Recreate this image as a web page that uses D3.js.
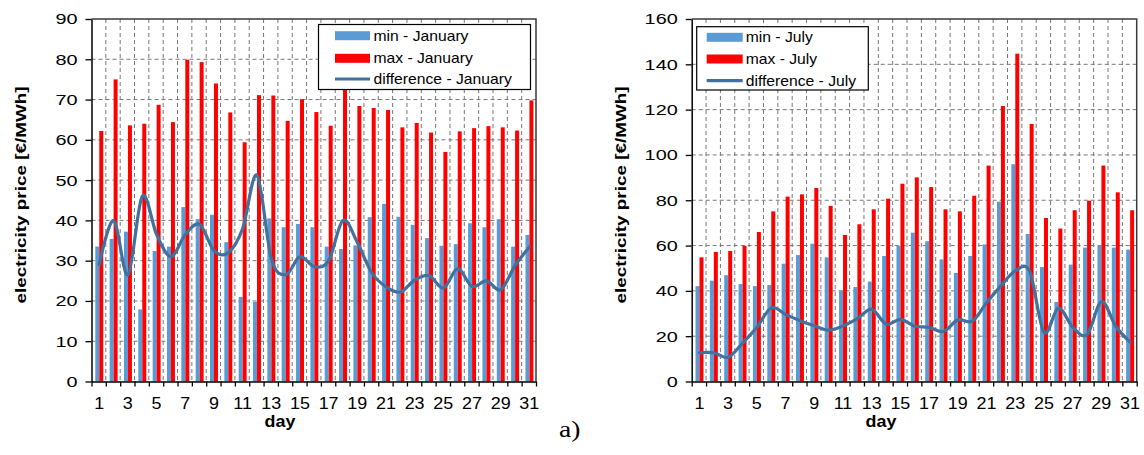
<!DOCTYPE html>
<html><head><meta charset="utf-8">
<script src="https://cdn.jsdelivr.net/npm/d3@7/dist/d3.min.js"></script>
<style>
html,body{margin:0;padding:0;background:#fff;}
svg{display:block;font-family:"Liberation Sans",Arial,sans-serif;}
</style></head>
<body>
<svg id="chart" width="1144" height="455"></svg>
<script>
const days = [1,2,3,4,5,6,7,8,9,10,11,12,13,14,15,16,17,18,19,20,21,22,23,24,25,26,27,28,29,30,31];
const xTickLabels = [1,3,5,7,9,11,13,15,17,19,21,23,25,27,29,31];

const janMin = [33.5,35.4,37.2,17.9,32.4,33.5,43.3,40.3,41.4,34.6,21.0,19.8,40.5,38.3,39.1,38.3,33.5,32.9,33.8,40.8,44.1,40.9,38.9,35.6,33.7,34.1,39.3,38.3,40.3,33.5,36.4];
const janMax = [62.2,75.0,63.6,64.0,68.7,64.4,79.9,79.3,74.0,66.8,59.4,71.1,71.0,64.7,70.1,66.9,63.5,73.0,68.4,67.9,67.4,63.1,64.2,61.8,57.0,62.1,62.9,63.4,63.1,62.3,69.8];
const janDiff = [29.0,40.0,26.5,46.0,36.5,31.0,36.5,39.0,32.5,32.0,38.0,51.2,30.5,26.5,31.0,28.5,30.0,40.0,34.5,27.0,23.5,22.2,25.2,26.3,23.2,28.0,23.6,25.0,22.8,28.8,33.4];

const julMin = [42.1,44.5,46.9,43.0,42.1,42.6,52.0,55.8,60.8,54.8,40.2,41.7,44.1,55.4,59.9,65.7,61.9,53.9,47.9,55.4,60.5,79.4,95.9,65.1,50.5,35.1,51.6,59.1,60.1,59.1,58.2];
const julMax = [54.8,57.2,57.6,59.9,66.0,75.1,81.6,82.6,85.4,77.5,64.7,69.4,76.0,80.7,87.3,90.1,85.8,76.0,75.1,82.0,95.3,121.6,144.7,113.7,72.2,67.5,75.6,79.8,95.3,83.5,75.6];
const julDiff = [12.7,12.7,10.7,16.9,23.9,32.5,29.6,26.8,24.6,22.7,24.5,27.7,31.9,25.3,27.4,24.4,23.9,22.1,27.2,26.6,34.8,42.2,48.8,48.6,21.7,32.4,24.0,20.7,35.2,24.4,17.4];

const yTicksJan = [0,10,20,30,40,50,60,70,80,90];
const yTicksJul = [0,20,40,60,80,100,120,140,160];

const legendJan = ["min - January","max - January","difference - January"];
const legendJul = ["min - July","max - July","difference - July"];
const yTitle = "electricity price [€/MWh]";
const xTitle = "day";

const COL_MIN = "#5B9BD5", COL_MAX = "#FF0000", COL_DIFF = "#41719C";

const svg = d3.select("#chart");

function stretch(sel, sx){
  sel.each(function(){
    const t = d3.select(this);
    const x = +(t.attr("x") || 0);
    t.attr("x", x / sx).attr("transform", `scale(${sx},1)`);
  });
}

function drawChart(cfg){
  const {left, right, top, bottom, yMax, yTicks, minV, maxV, diffV, legend, legendBox, titleX, dayX} = cfg;
  const g = svg.append("g");
  const x = d3.scaleBand().domain(days).range([left, right]).padding(0);
  const bw = x.bandwidth();
  const xs = d3.scaleBand().domain(["min","max"]).range([0.265*bw, 0.82*bw]).padding(0);
  const xLin = d3.scaleLinear().domain([0.5, days.length + 0.5]).range([left, right]);
  const y = d3.scaleLinear().domain([0, yMax]).range([bottom, top]);

  // grid
  const grid = g.append("g").attr("stroke","#777").attr("stroke-width",1).attr("stroke-dasharray","4,3");
  grid.selectAll("line.h").data(yTicks.filter(v => v > 0 && v < yMax)).join("line")
    .attr("x1", left).attr("x2", right).attr("y1", d => y(d)).attr("y2", d => y(d));
  grid.selectAll("line.v").data(days.slice(0, -1)).join("line")
    .attr("x1", d => xLin(d + 0.5)).attr("x2", d => xLin(d + 0.5)).attr("y1", top).attr("y2", bottom);

  // bars
  const bars = g.append("g");
  bars.selectAll("rect.min").data(days).join("rect")
    .attr("x", (d,i) => x(d) + xs("min")).attr("width", xs.bandwidth())
    .attr("y", (d,i) => y(minV[i])).attr("height", (d,i) => y(0) - y(minV[i]))
    .attr("fill", COL_MIN);
  bars.selectAll("rect.max").data(days).join("rect")
    .attr("x", (d,i) => x(d) + xs("max")).attr("width", xs.bandwidth())
    .attr("y", (d,i) => y(maxV[i])).attr("height", (d,i) => y(0) - y(maxV[i]))
    .attr("fill", COL_MAX);

  // line
  const line = d3.line().x((d,i) => x(days[i]) + xs("max")).y(d => y(d)).curve(d3.curveCatmullRom.alpha(0));
  g.append("path").datum(diffV).attr("d", line).attr("fill","none")
    .attr("stroke", COL_DIFF).attr("stroke-width", 3.2).attr("stroke-linejoin","round").attr("stroke-linecap","round");

  // border top/right
  g.append("path").attr("d", `M${left},${top}H${right}V${bottom}`).attr("fill","none")
    .attr("stroke","#3a3a3a").attr("stroke-width",1.5);

  // y axis
  const ya = g.append("g").attr("transform", `translate(${left},0)`)
    .call(d3.axisLeft(y).tickValues(yTicks).tickSize(6).tickPadding(8).tickSizeOuter(0));
  ya.select(".domain").attr("stroke","#000").attr("stroke-width",1.5);
  ya.selectAll(".tick line").attr("stroke","#000").attr("stroke-width",1.3);
  ya.attr("font-family", null);
  ya.selectAll(".tick text").attr("font-size","15.5px").attr("fill","#000").call(stretch, 1.28);

  // x axis: ticks at boundaries
  const xa = g.append("g").attr("transform", `translate(0,${bottom})`)
    .call(d3.axisBottom(xLin).tickValues(d3.range(0.5, days.length + 1, 1)).tickSize(5).tickFormat("").tickSizeOuter(0));
  xa.select(".domain").attr("stroke","#000").attr("stroke-width",1.5);
  xa.selectAll(".tick line").attr("stroke","#000").attr("stroke-width",1.3);
  const xl = g.append("g").attr("transform", `translate(0,${bottom})`)
    .call(d3.axisBottom(xLin).tickValues(xTickLabels).tickSize(0).tickPadding(16));
  xl.select(".domain").remove();
  xl.attr("font-family", null);
  xl.selectAll(".tick text").attr("font-size","16px").attr("fill","#000").call(stretch, 1.12);

  // axis titles
  g.append("text").attr("transform", `translate(${titleX},195) rotate(-90)`)
    .attr("text-anchor","middle").attr("dy","0.36em").attr("font-weight","bold").attr("font-size","15.5px")
    .attr("textLength", 217).attr("lengthAdjust","spacingAndGlyphs").text(yTitle);
  g.append("text").attr("x", dayX).attr("y", 427.5).attr("text-anchor","middle")
    .attr("font-weight","bold").attr("font-size","16px").text(xTitle).call(stretch, 1.12);

  // legend
  const [lx0, ly0, lx1, ly1, sx0, sx1, tx, rows] = legendBox;
  const lg = g.append("g");
  lg.append("rect").attr("x", lx0).attr("y", ly0).attr("width", lx1 - lx0).attr("height", ly1 - ly0)
    .attr("fill","#fff").attr("stroke","#000").attr("stroke-width",1.2);
  [COL_MIN, COL_MAX].forEach((c, i) => {
    lg.append("rect").attr("x", sx0).attr("y", rows[i] - 4.5).attr("width", sx1 - sx0).attr("height", 9).attr("fill", c);
  });
  lg.append("line").attr("x1", sx0).attr("x2", sx1).attr("y1", rows[2]).attr("y2", rows[2])
    .attr("stroke", COL_DIFF).attr("stroke-width", 3.2);
  legend.forEach((t, i) => {
    lg.append("text").attr("x", tx).attr("y", rows[i]).attr("dy","0.36em")
      .attr("font-size","14px").attr("fill","#000").text(t).call(stretch, 1.12);
  });
}

drawChart({left:91.5, right:536, top:19, bottom:381.5, yMax:90, yTicks:yTicksJan,
  minV:janMin, maxV:janMax, diffV:janDiff, legend:legendJan,
  legendBox:[318.5, 24.5, 530.5, 89.5, 335, 370, 373.5, [35.7, 58.3, 79]], titleX:20, dayX:280});

drawChart({left:691.7, right:1136.7, top:19, bottom:381.5, yMax:160, yTicks:yTicksJul,
  minV:julMin, maxV:julMax, diffV:julDiff, legend:legendJul,
  legendBox:[696.7, 26.7, 868.3, 90, 706.7, 742.7, 745.7, [37.3, 59, 80.7]], titleX:620, dayX:881});

svg.append("text").attr("x", 559).attr("y", 437).attr("font-family","'Liberation Serif','Times New Roman',serif")
  .attr("font-size","24px").attr("fill","#000").text("a)").call(stretch, 1.15);
</script>
</body></html>
